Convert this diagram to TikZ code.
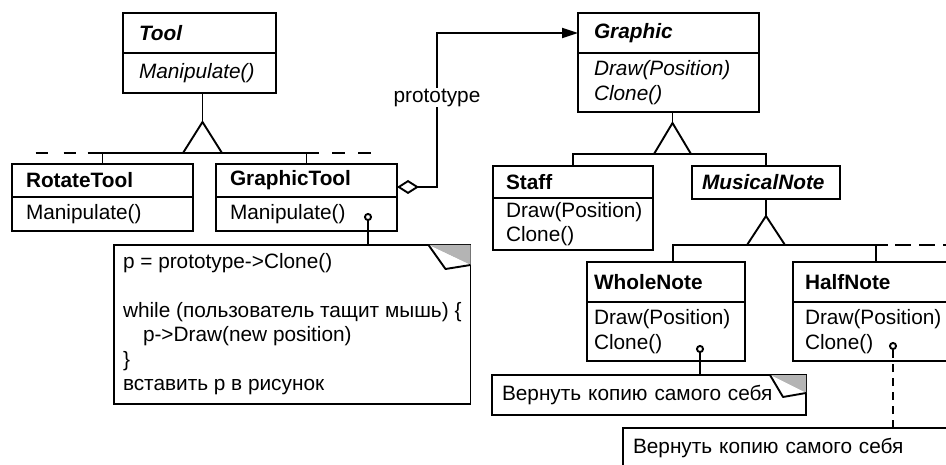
\documentclass[tikz,border=0pt]{standalone}
\usepackage{fontspec}
\setmainfont{Liberation Sans}
\usepackage{tikz}
\usetikzlibrary{positioning,arrows.meta}
\definecolor{foldgray}{HTML}{B4B4B4}
\newcommand{\umlsize}{\fontsize{20.8}{24.5}\selectfont}

\tikzset{
  box/.style={draw, line width=1.9pt, outer sep=0pt, inner ysep=0pt, align=left},
  cname/.style={box, anchor=north west, font=\umlsize\bfseries},
  aname/.style={cname, font=\umlsize\bfseries\itshape},
  cops/.style={box, below=0pt of #1, font=\umlsize},
  aops/.style={cops=#1, font=\umlsize\itshape},
  memo/.style={box, anchor=north west, font=\umlsize},
  link/.style={line width=1.9pt},
  isa/.style={link, fill=white},
}

% folded corner of a note: node, width, height, flap x, flap y
\newcommand{\dogear}[5]{%
  \fill[foldgray] ([xshift=-#2pt]#1.north east) -- (#1.north east) -- ([yshift=-#3pt]#1.north east) -- cycle;
  \draw[link, fill=white, line join=round] ([xshift=-#2pt]#1.north east) -- ([xshift=-#4pt,yshift=-#5pt]#1.north east) -- ([yshift=-#3pt]#1.north east);
}

\begin{document}
\begin{tikzpicture}[x=1pt, y=-1pt, font=\umlsize]
  \clip (0,0) rectangle (946,465);

  % Tool hierarchy
  \node[aname, text width=121pt, inner xsep=16pt, minimum height=40pt] (tool) at (123,13) {Tool};
  \node[aops=tool, text width=121pt, inner xsep=16pt, minimum height=40pt] (toolops) {Manipulate()};
  \node[cname, text width=153pt, inner xsep=14pt, minimum height=33pt] (rot) at (12,164) {RotateTool};
  \node[cops=rot, text width=153pt, inner xsep=14pt, minimum height=34pt] (rotops) {Manipulate()};
  \node[cname, text width=153pt, inner xsep=14pt, minimum height=33pt] (gt) at (216,164) {GraphicTool};
  \node[cops=gt, text width=153pt, inner xsep=14pt, minimum height=34pt] (gtops) {Manipulate()};

  % Graphic hierarchy
  \node[aname, text width=149pt, inner xsep=16pt, minimum height=40pt] (graphic) at (578,13) {Graphic};
  \node[aops=graphic, text width=149pt, inner xsep=16pt, minimum height=59pt] (graphicops) {Draw(Position)\\Clone()};
  \node[cname, text width=134pt, inner xsep=13pt, minimum height=32pt] (staff) at (493,166) {Staff};
  \node[cops=staff, text width=134pt, inner xsep=13pt, minimum height=52pt] (staffops) {Draw(Position)\\Clone()};
  \node[aname, text width=128pt, inner xsep=10pt, minimum height=33pt] (mnote) at (692,166) {MusicalNote};
  \node[cname, text width=144pt, inner xsep=7pt, minimum height=40pt] (whole) at (587,262) {WholeNote};
  \node[cops=whole, text width=144pt, inner xsep=7pt, minimum height=59pt] (wholeops) {Draw(Position)\\Clone()};
  \node[cname, text width=142pt, inner xsep=12pt, minimum height=40pt] (half) at (793,262) {HalfNote};
  \node[cops=half, text width=142pt, inner xsep=12pt, minimum height=59pt] (halfops) {Draw(Position)\\Clone()};

  % Notes
  \node[memo, minimum width=356pt, minimum height=159pt, inner xsep=9pt] (algo) at (114,245)
    {p = prototype->Clone()\\[24pt]
     while (пользователь тащит мышь) \{\\
     \hspace*{20pt}p->Draw(new position)\\
     \}\\
     вставить p в рисунок};
  \node[memo, text width=294pt, inner xsep=10pt, minimum height=40pt] (wnmemo) at (492,375) {Вернуть копию самого себя};
  \node[memo, text width=380pt, inner xsep=10pt, minimum height=40pt] (hnmemo) at (623,428) {Вернуть копию самого себя};
  \dogear{algo}{42}{20}{25}{24}
  \dogear{wnmemo}{36}{18}{23}{22}

  % Inheritance: Tool
  \draw[link] ([xshift=3pt]toolops.south) -- ++(0,29) coordinate (toolisa);
  \draw[link] ([xshift=-15pt,yshift=11pt]rot.north) -- ([xshift=12pt,yshift=11pt]gt.north);
  \draw[link] (rot.north) -- ++(0,-11);
  \draw[link] (gt.north) -- ++(0,-11);
  \draw[link, dash pattern=on 12pt off 16pt] ([xshift=-15pt,yshift=11pt]rot.north) ++(-52,0) -- ++(52,0);
  \draw[link, dash pattern=on 13pt off 13pt] ([xshift=12pt,yshift=11pt]gt.north) ++(52,0) -- ++(-52,0);
  \draw[isa] (toolisa) -- ++(-19.5,31) -- ++(39,0) -- cycle;

  % Inheritance: Graphic
  \draw[link] ([xshift=4pt]graphicops.south) -- ++(0,11) coordinate (gisa);
  \draw[link] (staff.north) -- ++(0,-12) -| (mnote.north);
  \draw[isa] (gisa) -- ++(-18.5,31) -- ++(37,0) -- cycle;

  % Inheritance: MusicalNote
  \draw[link] (mnote.south) -- ++(0,17) coordinate (misa);
  \draw[link] ([xshift=7pt]whole.north) -- ++(0,-17) -| (half.north);
  \draw[link] ([yshift=17pt]half.north) -- ++(12,0);
  \draw[link, dash pattern=on 16pt off 8pt] ([xshift=19pt,yshift=17pt]half.north) -- ++(80,0);
  \draw[isa] (misa) -- ++(-19,29) -- ++(38,0) -- cycle;

  % prototype aggregation
  \draw[link, {Diamond[open,length=22pt,width=14pt]}-{Triangle[length=16pt,width=10pt]}]
    ([yshift=-6.5pt]gt.east) -- ++(40,0) |- node[pos=0.29, fill=white, inner sep=0.5pt] (proto) {prototype} (graphic.west);

  % note anchors
  \coordinate (gtpin) at (368,213);
  \coordinate (wnpin) at (700,345);
  \coordinate (hnpin) at (893,342);
  \draw[link, -{Circle[open,length=8pt]}] (algo.north -| gtpin) -- (gtpin);
  \draw[link, -{Circle[open,length=8pt]}] (wnmemo.north -| wnpin) -- (wnpin);
  \draw[link, dash pattern=on 8pt off 6pt, -{Circle[open,length=8pt]}] (hnmemo.north -| hnpin) -- (hnpin);
\end{tikzpicture}
\end{document}
